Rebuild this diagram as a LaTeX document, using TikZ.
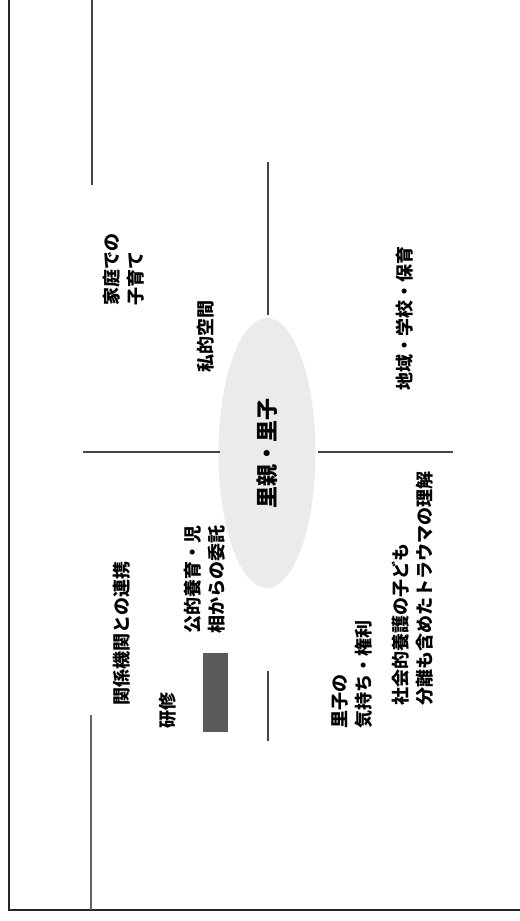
\documentclass[tikz,border=0pt]{standalone}
\usepackage{fontspec}
\setmainfont{Noto Sans CJK JP}
\usetikzlibrary{shapes.geometric}
\definecolor{ellfill}{HTML}{EBEBEB}
\definecolor{linecol}{HTML}{444444}
\definecolor{boxcol}{HTML}{5A5A5A}
\begin{document}
\begin{tikzpicture}[x=0.75pt,y=-0.75pt,
  lbl/.style={rotate=90,anchor=west,inner sep=0pt,align=left,
    font=\fontsize{13.5pt}{18pt}\selectfont\bfseries},
  axis/.style={draw=linecol,line width=0.9pt},
  frame/.style={draw=black!85,line width=1.9pt}]
\useasboundingbox (0,0) rectangle (520,921);
% frame
\coordinate (ftop) at (9,0);
\coordinate (fcorner) at (9,910);
\coordinate (fright) at (520,910);
\draw[frame] (ftop) -- (fcorner) -- (fright);
% side lines
\coordinate (la1) at (92,0);
\coordinate (la2) at (92,185);
\draw[axis] (la1) -- (la2);
\coordinate (lb1) at (91,715);
\coordinate (lb2) at (91,910);
\draw[axis,draw=black!60] (lb1) -- (lb2);
% central ellipse
\node[ellipse,fill=ellfill,rotate=90,minimum width=202.5pt,minimum height=72.75pt,inner sep=0pt,
  font=\fontsize{16.5pt}{18pt}\selectfont\bfseries] (sato) at (267,453) {里親・里子};
% cross lines
\coordinate (hl1) at (83,452);
\coordinate (hl2) at (220,452);
\coordinate (hr1) at (318,452);
\coordinate (hr2) at (453,452);
\coordinate (vt1) at (268,162);
\coordinate (vt2) at (268,315);
\coordinate (vb1) at (268,671);
\coordinate (vb2) at (268,741);
\draw[axis] (hl1) -- (hl2);
\draw[axis] (hr1) -- (hr2);
\draw[axis] (vt1) -- (vt2);
\draw[axis] (vb1) -- (vb2);
% labels
\node[lbl] (katei) at (124,306) {家庭での\\子育て};
\node[lbl] (shiteki) at (206,373) {私的空間};
\node[lbl] (chiiki) at (405,391) {地域・学校・保育};
\node[lbl] (kankei) at (122,706) {関係機関との連携};
\node[lbl] (kenshu) at (168,729) {研修};
\node[lbl] (koteki) at (205,634) {公的養育・児\\相からの委託};
\node[lbl] (satogo) at (352,729) {里子の\\気持ち・権利};
\node[lbl] (shakai) at (413,706) {社会的養護の子ども\\分離も含めたトラウマの理解};
% dark box
\node[fill=boxcol,inner sep=0pt,minimum width=18.75pt,minimum height=59.25pt] (dbox) at (215.5,692.5) {};
\end{tikzpicture}
\end{document}
